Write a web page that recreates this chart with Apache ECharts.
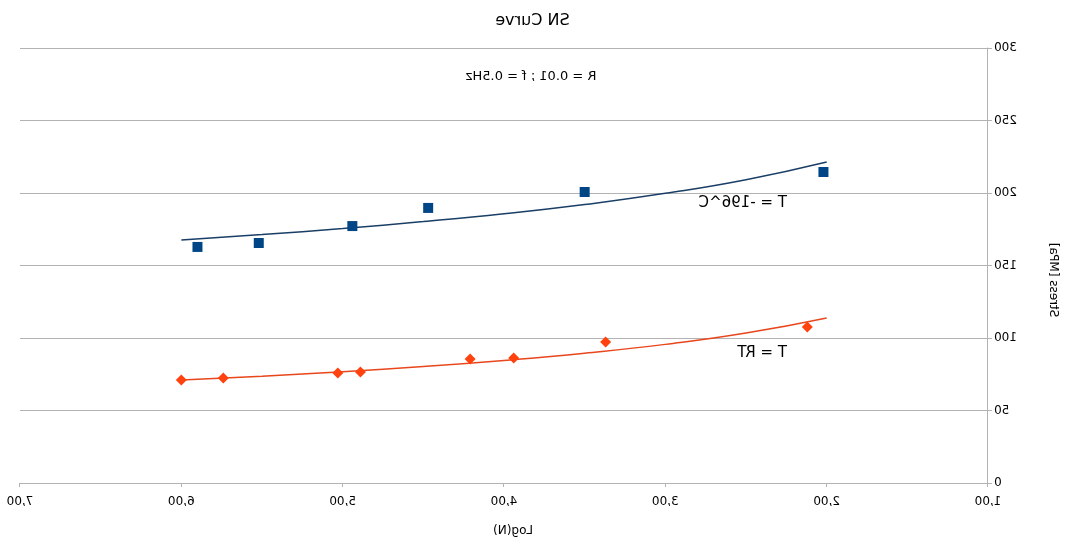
<!DOCTYPE html>
<html>
<head>
<meta charset="utf-8">
<script src="https://cdn.jsdelivr.net/npm/echarts@6/dist/echarts.min.js"></script>
<style>
html,body{margin:0;padding:0;background:#fff;}
#c{width:1065px;height:544px;transform:scaleX(-1);}
</style>
</head>
<body>
<div id="c"></div>
<script>
// Data read from the (mirrored) reference picture
var coldPoints = [[5.90,162.8],[5.52,165.5],[4.94,177.2],[4.47,189.7],[3.50,200.7],[2.02,214.5]];
var rtPoints = [[6.00,71.0],[5.74,72.4],[5.03,75.9],[4.89,76.6],[4.21,85.5],[3.94,86.2],[3.37,97.2],[2.12,107.6]];
var coldTrend = [[6.0,167.6],[5.5,171.3],[5.0,175.5],[4.5,180.3],[4.0,185.7],[3.5,192.1],[3.0,199.8],[2.5,209.2],[2.0,221.4]];
var rtTrend = [[6.0,71.0],[5.5,73.7],[5.0,76.8],[4.5,80.3],[4.0,84.5],[3.5,89.5],[3.0,95.6],[2.5,103.4],[2.0,113.8]];
var titleText = 'SN Curve';
var subText = 'R = 0.01 ; f = 0.5Hz';
var coldLabel = 'T = -196^C';
var rtLabel = 'T = RT';
var xName = 'Log(N)';
var yName = 'Stress [MPa]';

var FONT = 'DejaVu Sans';
var chart = echarts.init(document.getElementById('c'), null, {renderer:'canvas'});
chart.setOption({
  animation:false,
  backgroundColor:'#fff',
  title:{text:titleText,left:'center',top:8,textStyle:{fontFamily:FONT,fontSize:16,fontWeight:'normal',color:'#000'}},
  grid:{left:77,right:20,top:48,bottom:61,containLabel:false},
  xAxis:{type:'value',min:1,max:7,interval:1,
    axisLine:{show:true,lineStyle:{color:'#b3b3b3',width:1}},
    axisTick:{show:true,length:4,lineStyle:{color:'#b3b3b3'}},
    splitLine:{show:false},
    axisLabel:{margin:13,fontFamily:FONT,fontSize:12,color:'#000',formatter:function(v){return v.toFixed(2).replace('.',',');}}
  },
  yAxis:{type:'value',min:0,max:300,interval:50,
    axisLine:{show:true,lineStyle:{color:'#b3b3b3',width:1}},
    axisTick:{show:true,length:4,lineStyle:{color:'#b3b3b3'}},
    splitLine:{show:true,lineStyle:{color:'#b3b3b3',width:1}},
    axisLabel:{margin:6,fontFamily:FONT,fontSize:12,color:'#000'}
  },
  series:[
    {type:'line',data:coldTrend,smooth:true,showSymbol:false,lineStyle:{color:'#1a3f66',width:1.5},z:2},
    {type:'line',data:rtTrend,smooth:true,showSymbol:false,lineStyle:{color:'#e8461c',width:1.5},z:2},
    {type:'scatter',data:coldPoints,symbol:'rect',symbolSize:10,itemStyle:{color:'#004586',opacity:1},z:3},
    {type:'scatter',data:rtPoints,symbol:'diamond',symbolSize:[11,11],itemStyle:{color:'#ff420e',opacity:1},z:3}
  ],
  graphic:[
    {type:'text',x:534,y:77,style:{text:subText,font:'13px "DejaVu Sans"',fill:'#000',align:'center',verticalAlign:'middle'}},
    {type:'text',x:278,y:203,style:{text:coldLabel,font:'15px "DejaVu Sans"',fill:'#000',align:'left',verticalAlign:'middle'}},
    {type:'text',x:278,y:353,style:{text:rtLabel,font:'15px "DejaVu Sans"',fill:'#000',align:'left',verticalAlign:'middle'}},
    {type:'text',x:552,y:531,style:{text:xName,font:'12px "DejaVu Sans"',fill:'#000',align:'center',verticalAlign:'middle'}},
    {type:'text',x:12,y:280,rotation:Math.PI/2,style:{text:yName,font:'12px "DejaVu Sans"',fill:'#000',align:'center',verticalAlign:'middle'}}
  ]
});
</script>
</body>
</html>
